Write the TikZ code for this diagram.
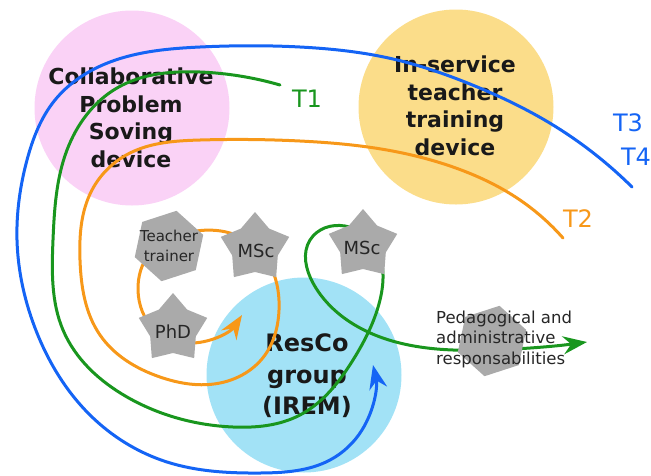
\documentclass[tikz,border=0pt]{standalone}
\usepackage{fontspec}
\setmainfont{DejaVu Sans}
\usetikzlibrary{shapes.geometric,arrows.meta,hobby}
\definecolor{cpink}{RGB}{250,210,246}
\definecolor{cyel}{RGB}{251,221,138}
\definecolor{ccyan}{RGB}{162,226,246}
\definecolor{cblue}{RGB}{20,100,245}
\definecolor{cgreen}{RGB}{25,150,30}
\definecolor{corange}{RGB}{247,152,25}
\definecolor{cgray}{RGB}{170,170,170}
\begin{document}
\begin{tikzpicture}[x=1pt,y=-1pt,
  device/.style={circle, minimum size=195pt, inner sep=0pt},
  bigtxt/.style={font=\fontsize{22}{27.5}\selectfont\bfseries, align=center, text=black!90},
  restxt/.style={font=\fontsize{24}{31.5}\selectfont\bfseries, align=center, text=black!90},
  lbl/.style={font=\fontsize{24}{28}\selectfont, inner sep=0pt},
  traj/.style={line width=3pt, line cap=round, use Hobby shortcut},
  tipend/.style={-{Stealth[length=24pt,width=18pt,inset=8pt]}},
  starbox/.style={star, star points=5, star point ratio=1.5, fill=cgray, minimum size=72pt, inner sep=0pt},
  hexbox/.style={regular polygon, regular polygon sides=6, shape border rotate=18, fill=cgray, minimum size=72pt, inner sep=0pt},
  smalltxt/.style={font=\fontsize{15}{20}\selectfont, align=center, text=black!85, inner sep=0pt},
  startxt/.style={font=\fontsize{18}{20}\selectfont, text=black!85, inner sep=0pt},
  pedtxt/.style={font=\fontsize{16.5}{20.5}\selectfont, align=left, text=black!85, inner sep=0pt}
]
\useasboundingbox (0,0) rectangle (651,475);
% devices
\node[device, fill=cpink] (cps) at (132,108) {};
\node[device, fill=cyel] (ist) at (456,107) {};
\node[device, fill=ccyan] (resco) at (304,375) {};
\node[bigtxt] (cpstxt) at (131,118) {Collaborative\\Problem\\Soving\\device};
\node[bigtxt] (isttxt) at (455,106) {In-service\\teacher\\training\\device};
\node[restxt] (rescotxt) at (307,376) {ResCo\\group\\(IREM)};
% labels
\node[lbl, text=cgreen] (t1) at (307,99) {T1};
\node[lbl, text=corange] (t2) at (578,219) {T2};
\node[lbl, text=cblue] (t3) at (628,123) {T3};
\node[lbl, text=cblue] (t4) at (636,157) {T4};
% end points
\coordinate (bstart) at (632,187);
\coordinate (btip) at (373,365);
\coordinate (gstart) at (280,85);
\coordinate (gtip) at (587,342);
\coordinate (ostart) at (563,238);
\coordinate (otip) at (242,315);
% blue trajectory
\draw[traj, cblue, tipend] (bstart) .. (553,125) .. (470,84) .. (393,59) .. (300,47) .. (200,47) .. (110,62) .. (55,100) .. (27,160) .. (17,240) .. (37,333) .. (90,415) .. (167,462) .. (260,473) .. (330,460) .. (362,430) .. (btip);
% green trajectory
\draw[traj, cgreen, tipend] (gstart) .. (200,72) .. (117,88) .. (67,150) .. (53,240) .. (63,330) .. (127,397) .. (233,427) .. (300,415) .. (353,360) .. (380,300) .. (377,250) .. (345,226) .. (310,240) .. (313,283) .. (350,322) .. (420,347) .. (490,350) .. (gtip);
% orange trajectory
\draw[traj, corange, tipend] (ostart) .. (520,200) .. (453,167) .. (387,150) .. (300,141) .. (200,140) .. (130,153) .. (92,190) .. (80,260) .. (100,335) .. (160,377) .. (220,383) .. (265,355) .. (279,310) .. (268,262) .. (230,233) .. (190,232) .. (150,253) .. (138,290) .. (155,330) .. (193,343) .. (otip);
% actors
\node[hexbox] (tt) at (169,246) {};
\node[smalltxt] (tttxt) at (tt) {Teacher\\trainer};
\node[starbox] (msc1) at (255,248) {};
\node[startxt] (msc1txt) at (256,251) {MSc};
\node[starbox] (phd) at (173,329) {};
\node[startxt] (phdtxt) at (173,332) {PhD};
\node[starbox] (msc2) at (363,245) {};
\node[startxt] (msc2txt) at (362,248) {MSc};
\node[hexbox] (ped) at (492,341) {};
\node[pedtxt, anchor=west] (pedtxt) at (436,339) {Pedagogical and\\administrative\\responsabilities};
\end{tikzpicture}
\end{document}
